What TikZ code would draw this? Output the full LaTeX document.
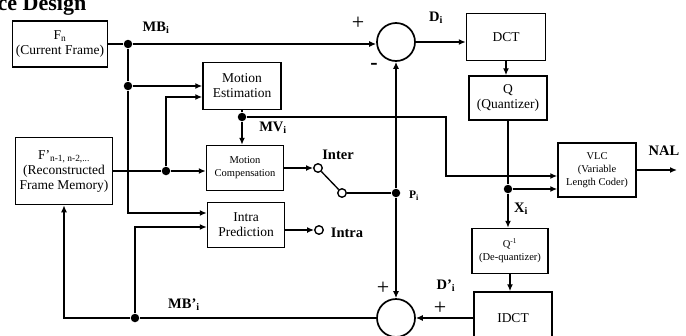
\documentclass[tikz,border=0pt]{standalone}
\usepackage{fontspec}
\setmainfont{Liberation Serif}
\usetikzlibrary{arrows.meta,positioning}

\begin{document}
\begin{tikzpicture}[x=1pt,y=-1pt,line width=1.35pt,>={Latex[length=7pt,width=6pt]},
   every node/.style={font=\fontsize{13.5}{15}\selectfont,align=center},
   blk/.style={draw,line width=1.5pt,inner sep=1pt},
   small/.style={font=\fontsize{10.5}{13}\selectfont},
   lbl/.style={font=\fontsize{14.5}{16}\selectfont\bfseries},
   sign/.style={font=\fontsize{22}{22}\selectfont,inner sep=0pt},
   dot/.style={circle,fill,inner sep=0pt,minimum size=8.5pt},
   term/.style={circle,draw,fill=white,inner sep=0pt,minimum size=8.5pt},
   sum/.style={circle,draw,line width=1.7pt,inner sep=0pt,minimum size=38pt}]
  \useasboundingbox (0,0) rectangle (686,335);
  \node[font=\fontsize{22}{24}\selectfont\bfseries,anchor=base west,inner sep=0pt](hdr) at (-3,10){ce Design};
  % blocks
  \node[blk,minimum width=95pt,minimum height=46pt](fn) at (60,44){F\textsubscript{n}\\(Current Frame)};
  \node[blk,minimum width=97pt,minimum height=67pt](fr) at (64,171){F'\textsubscript{n-1, n-2,...}\\(Reconstructed\\Frame Memory)};
  \node[blk,minimum width=78pt,minimum height=47pt](me) at (242,86){Motion\\Estimation};
  \node[blk,small,minimum width=77pt,minimum height=45pt](mc) at (245,168){Motion\\Compensation};
  \node[blk,minimum width=77pt,minimum height=45pt](ip) at (246,225){Intra\\Prediction};
  \node[blk,minimum width=79pt,minimum height=47pt](dct) at (506,37){DCT};
  \node[blk,minimum width=78pt,minimum height=44pt](q) at (508,98){Q\\(Quantizer)};
  \node[blk,small,minimum width=78pt,minimum height=54pt](vlc) at (597,170){VLC\\(Variable\\Length Coder)};
  \node[blk,small,minimum width=76pt,minimum height=45pt](iq) at (510,251){Q\textsuperscript{-1}\\(De-quantizer)};
  \node[blk,minimum width=78pt,minimum height=52pt](idct) at (513,318){IDCT};
  \node[sum](s1) at (396,42){};
  \node[sum](s2) at (396,318){};
  % junctions and switch
  \node[dot](j1) at (128,44){};
  \node[dot](j2) at (128,86){};
  \node[dot](j3) at (166,171){};
  \node[dot](j4) at (242,117){};
  \node[dot](j5) at (396,193){};
  \node[dot](j6) at (508,189){};
  \node[dot](j7) at (135,318){};
  \node[term](t1) at (318,168){};
  \node[term](t2) at (342,193){};
  \node[term](t3) at (319,230){};
  \coordinate (k1) at (128,213);
  \coordinate (k2) at (166,97);
  \coordinate (k3) at (446,117);
  \coordinate (k4) at (446,176);
  \coordinate (k5) at (135,227);
  \coordinate (nal) at (677,170);
  % connectors
  \foreach \a/\b in {fn.east/j1,j1/j2,me.south/j4,t1/t2,t2/j5,q.south/j6,s2.west/j7,fr.east/j3}\draw(\a)--(\b);
  \foreach \a/\b in {j1/j1 -| s1.west,j2/j2 -| me.west,j3/j3 -| mc.west,j4/j4 |- mc.north,mc.east/t1,ip.east |- t3/t3,
     j5/s1.south,j5/s2.north,s1.east/s1.east -| dct.west,dct.south/dct.south |- q.north,j6/j6 -| vlc.west,
     j6/j6 |- iq.north,iq.south/iq.south |- idct.north,vlc.east/nal,idct.west/s2.east}\draw[->](\a)--(\b);
  \draw[->](j2)--(k1)--(k1 -| ip.west);
  \draw[->](j3)--(k2)--(k2 -| me.west);
  \draw[->](j4)--(k3)--(k4)--(k4 -| vlc.west);
  \draw[->](j7)--(k5)--(k5 -| ip.west);
  \draw[->](j7)-|(fr.south);
  % labels
  \node[lbl](mbl) at (156,28){MB\textsubscript{i}};
  \node[lbl](dl) at (436,18){D\textsubscript{i}};
  \node[lbl](mvl) at (273,128){MV\textsubscript{i}};
  \node[lbl](interl) at (338,155){Inter};
  \node[lbl](intral) at (347,233){Intra};
  \node[lbl,font=\fontsize{11.5}{12}\selectfont\bfseries](pl) at (414,196){P\textsubscript{i}};
  \node[lbl](nall) at (664,151){NAL};
  \node[lbl](xl) at (521,209){X\textsubscript{i}};
  \node[lbl](dpl) at (446,286){D'\textsubscript{i}};
  \node[lbl](mbpl) at (184,305){MB'\textsubscript{i}};
  \node[sign](p1) at (358,23){+};
  \node[sign,font=\fontsize{22}{22}\selectfont\bfseries](m1) at (374,66){-};
  \node[sign](p2) at (383,288){+};
  \node[sign](p3) at (440,308){+};
\end{tikzpicture}
\end{document}
